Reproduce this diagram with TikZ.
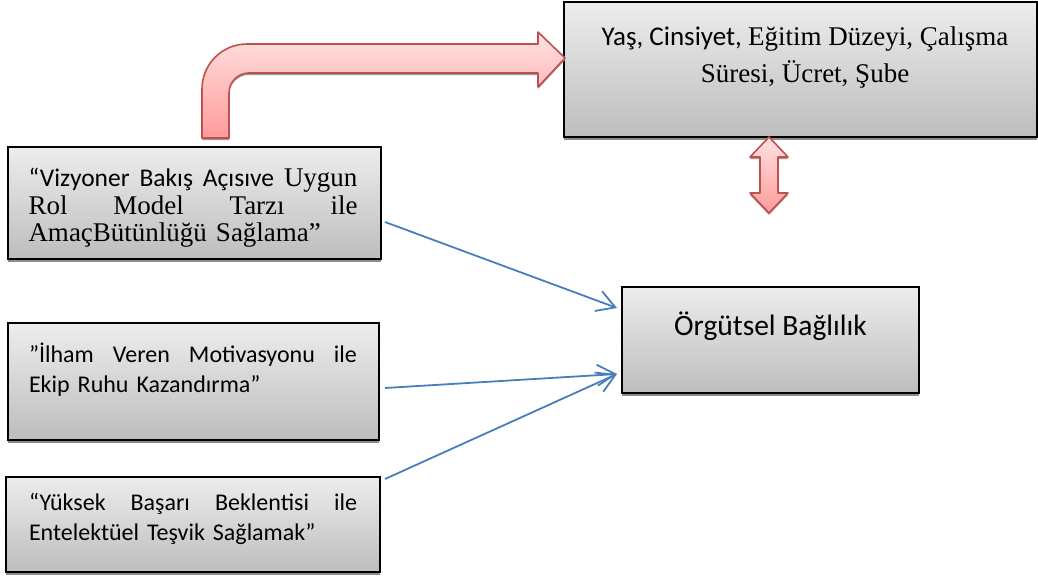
\documentclass[tikz,border=0pt]{standalone}
\usepackage{fontspec}
\setmainfont{Liberation Serif}
\newfontfamily\calibfont{Carlito}
\usetikzlibrary{arrows.meta,shadows}

\definecolor{boxtop}{HTML}{EDEDED}
\definecolor{boxbot}{HTML}{BDBDBD}
\definecolor{arrowred}{HTML}{C0504D}
\definecolor{pinktop}{HTML}{FFE2E2}
\definecolor{pinkbot}{HTML}{FF9A9A}
\definecolor{linkblue}{HTML}{4A7EBB}

\tikzset{
  box/.style={draw=black, line width=2pt, top color=boxtop, bottom color=boxbot,
    drop shadow={shadow xshift=0pt, shadow yshift=-3pt, fill=black!45, opacity=1}},
  label text/.style={inner sep=0pt, font=\fontsize{27}{27.5}\selectfont},
  blockarrow/.style={draw=arrowred, line width=1.6pt, line join=round,
    top color=pinktop, bottom color=pinkbot,
    drop shadow={shadow xshift=0pt, shadow yshift=-2pt, fill=black!40, opacity=1}},
  link/.style={draw=linkblue, line width=1.8pt,
    -{Straight Barb[length=18pt,width=21pt,line width=1.8pt]}}
}

\begin{document}
\begin{tikzpicture}[x=1pt,y=-1pt]
\useasboundingbox (0,0) rectangle (1038,578);

% boxes
\node[box, minimum width=473pt, minimum height=135pt] (top) at (800.5,69.5) {};
\node[box, minimum width=373pt, minimum height=112pt] (b1) at (194.5,203) {};
\node[box, minimum width=371pt, minimum height=117pt] (b2) at (193.5,381.5) {};
\node[box, minimum width=374pt, minimum height=95pt] (b3) at (193,524.5) {};
\node[box, minimum width=297pt, minimum height=106pt] (org) at (770.5,340) {};

% box texts
\node[label text, align=center, font=\fontsize{27}{37}\selectfont] (ttop) at (805,58)
  {{\calibfont Yaş, Cinsiyet, }Eğitim Düzeyi, Çalışma\\Süresi, Ücret, Şube};
\node[label text, text width=329pt, align=left] (t1) at (193,208)
  {{\calibfont\fontsize{25.5}{27.5}\selectfont “Vizyoner\hfill Bakış\hfill Açısıve}\hfill Uygun\\
   Rol\hfill Model\hfill Tarzı\hfill ile\\
   AmaçBütünlüğü Sağlama”};
\node[label text, text width=328pt, align=left, font=\calibfont\fontsize{24}{30}\selectfont] (t2) at (193,370)
  {”İlham\hfill Veren\hfill Motivasyonu\hfill ile\\Ekip Ruhu Kazandırma”};
\node[label text, text width=328pt, align=left, font=\calibfont\fontsize{24}{30}\selectfont] (t3) at (193,519)
  {“Yüksek\hfill Başarı\hfill Beklentisi\hfill ile\\Entelektüel Teşvik Sağlamak”};
\node[label text, font=\calibfont\fontsize{29.5}{32}\selectfont] (torg) at (770.5,326) {Örgütsel Bağlılık};

% bent block arrow from the left box up to the top box
\path[blockarrow]
  (202,138) -- (202,89)
  .. controls (202,64.15) and (222.15,44) .. (247,44)
  -- (538,44) -- (538,32) -- (565,58) -- (538,87) -- (538,73) -- (249,73)
  .. controls (237.95,73) and (229,81.95) .. (229,93)
  -- (229,138) -- cycle;

% double block arrow under the top box
\path[blockarrow]
  (769,137) -- (788,157) -- (778,157) -- (778,193) -- (788,193) -- (769,213)
  -- (750,193) -- (760,193) -- (760,157) -- (750,157) -- cycle;

% links into the central box
\draw[link] ([xshift=3pt,yshift=-19pt]b1.east) -- ([xshift=-4pt,yshift=32pt]org.west);
\draw[link] ([xshift=5pt,yshift=-6.5pt]b2.east) -- ([xshift=-4pt,yshift=-34pt]org.west);
\draw[link] ([xshift=4pt,yshift=45.5pt]b3.east) -- ([xshift=-4pt,yshift=-34pt]org.west);
\end{tikzpicture}
\end{document}
